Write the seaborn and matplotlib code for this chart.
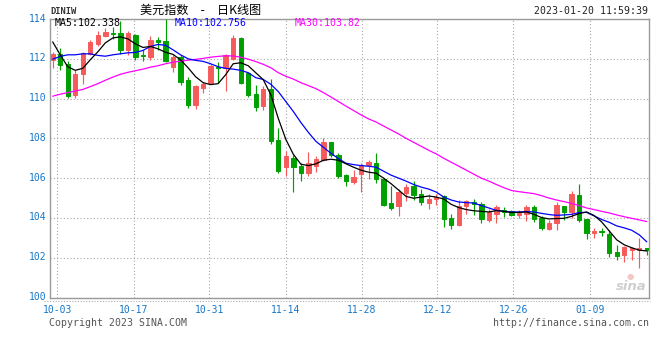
import numpy as np
import pandas as pd
import matplotlib
matplotlib.use("Agg")
import matplotlib.pyplot as plt
import seaborn as sns
from matplotlib.lines import Line2D
from matplotlib.transforms import ScaledTranslation

# ---------------- data ----------------
opens = [111.95, 112.25, 111.72, 110.17, 111.25, 112.25, 112.75, 113.17, 113.30, 113.28,
         112.45, 113.22, 112.18, 112.08, 112.92, 112.88, 111.58, 112.08, 110.92, 109.67,
         110.55, 110.76, 111.60, 111.54, 112.00, 113.04, 111.29, 110.23, 109.64, 110.48,
         107.92, 106.55, 107.00, 106.63, 106.26, 106.60, 106.93, 107.80, 107.18, 106.14,
         105.81, 106.22, 106.65, 106.76, 105.97, 104.75, 104.59, 105.25, 105.61, 105.20,
         104.75, 104.93, 105.08, 104.00, 103.63, 104.58, 104.80, 104.72, 103.92, 104.22,
         104.38, 104.35, 104.13, 104.22, 104.55, 104.02, 103.43, 103.72, 104.58, 104.30,
         105.17, 103.93, 103.22, 103.33, 103.17, 102.27, 102.13, 102.38, 102.38, 102.47]
highs = [112.33, 112.55, 111.88, 111.42, 112.33, 112.95, 113.42, 113.55, 113.62, 113.90,
         113.42, 113.25, 112.45, 113.17, 113.12, 113.98, 112.17, 112.18, 111.08, 110.67,
         110.84, 111.75, 111.83, 112.25, 113.20, 113.10, 111.34, 110.68, 110.63, 111.00,
         108.53, 107.37, 107.16, 106.76, 107.29, 107.10, 108.00, 107.84, 107.26, 106.19,
         106.43, 106.76, 106.90, 107.26, 106.02, 105.61, 105.45, 105.69, 105.86, 105.45,
         105.20, 105.22, 105.17, 104.22, 104.88, 104.88, 104.97, 104.80, 104.47, 104.63,
         104.55, 104.38, 104.38, 104.63, 104.63, 104.08, 103.88, 104.80, 104.60, 105.33,
         105.72, 103.97, 103.50, 103.50, 103.38, 102.63, 102.60, 102.55, 102.97, 102.50]
lows = [111.53, 111.42, 110.05, 110.05, 110.75, 112.20, 112.62, 113.08, 113.00, 112.25,
        112.17, 111.95, 111.88, 111.95, 112.45, 111.83, 111.33, 110.70, 109.55, 109.50,
        110.30, 110.72, 110.76, 110.40, 111.92, 110.73, 110.07, 109.36, 109.44, 107.70,
        106.26, 106.13, 105.31, 105.88, 106.10, 106.30, 106.85, 107.06, 105.99, 105.61,
        105.69, 105.31, 105.97, 105.78, 104.62, 104.38, 104.08, 104.87, 104.92, 104.66,
        104.46, 104.63, 103.52, 103.43, 103.60, 104.22, 104.13, 103.72, 103.80, 103.75,
        104.05, 104.10, 104.00, 103.83, 103.80, 103.38, 103.38, 103.38, 103.88, 104.00,
        103.80, 102.93, 102.97, 103.10, 102.05, 101.88, 101.77, 101.88, 101.50, 102.13]
closes = [112.25, 111.70, 110.12, 111.22, 112.30, 112.83, 113.20, 113.33, 113.25, 112.45,
          113.28, 112.08, 112.15, 112.92, 112.83, 111.88, 112.08, 110.85, 109.67, 110.62,
          110.71, 111.64, 111.55, 112.17, 113.04, 110.79, 110.18, 109.60, 110.46, 107.87,
          106.38, 107.12, 106.55, 106.26, 106.76, 106.98, 107.84, 107.14, 106.11, 105.86,
          106.07, 106.68, 106.83, 105.97, 104.66, 104.51, 105.31, 105.56, 105.15, 104.82,
          104.95, 105.07, 103.97, 103.63, 104.60, 104.85, 104.72, 103.93, 104.30, 104.55,
          104.30, 104.13, 104.25, 104.55, 103.93, 103.47, 103.77, 104.67, 104.30, 105.22,
          103.88, 103.22, 103.33, 103.27, 102.22, 102.10, 102.55, 102.47, 102.47, 102.38]

ma5 = [112.85, 112.20, 111.60, 111.42, 111.52, 111.95, 112.35, 112.80, 113.05, 113.10,
       113.00, 112.75, 112.57, 112.62, 112.50, 112.33, 112.22, 111.95, 111.55, 111.10,
       110.80, 110.70, 110.75, 111.20, 111.75, 111.80, 111.65, 111.30, 110.95, 110.20,
       109.00, 107.95, 107.20, 106.70, 106.63, 106.72, 106.90, 106.95, 106.90, 106.72,
       106.55, 106.40, 106.30, 106.25, 106.00, 105.72, 105.40, 105.08, 104.99, 105.05,
       105.10, 105.05, 104.95, 104.68, 104.52, 104.42, 104.36, 104.33, 104.30, 104.37,
       104.33, 104.27, 104.28, 104.30, 104.18, 104.02, 103.95, 103.97, 103.98, 104.08,
       104.22, 104.30, 104.12, 103.80, 103.35, 102.90, 102.65, 102.50, 102.38, 102.34]
ma10 = [111.98, 112.12, 112.20, 112.20, 112.25, 112.25, 112.17, 112.13, 112.20, 112.25,
        112.30, 112.32, 112.42, 112.62, 112.72, 112.68, 112.45, 112.20, 112.00, 111.92,
        111.87, 111.75, 111.60, 111.52, 111.48, 111.42, 111.30, 111.05, 110.96, 110.72,
        110.35, 109.85, 109.35, 108.80, 108.30, 107.85, 107.55, 107.25, 106.98, 106.75,
        106.68, 106.63, 106.60, 106.55, 106.35, 106.15, 106.00, 105.85, 105.68, 105.55,
        105.45, 105.30, 105.05, 104.90, 104.80, 104.77, 104.75, 104.62, 104.50, 104.38,
        104.33, 104.30, 104.30, 104.32, 104.30, 104.23, 104.17, 104.13, 104.15, 104.18,
        104.27, 104.28, 104.10, 103.92, 103.78, 103.60, 103.50, 103.38, 103.15, 102.80]
ma30 = [110.12, 110.22, 110.30, 110.38, 110.46, 110.60, 110.75, 110.92, 111.08, 111.22,
        111.32, 111.40, 111.48, 111.58, 111.65, 111.75, 111.83, 111.88, 111.93, 111.97,
        112.02, 112.08, 112.12, 112.15, 112.14, 112.08, 111.98, 111.86, 111.72, 111.55,
        111.30, 111.12, 110.98, 110.80, 110.65, 110.50, 110.30, 110.08, 109.85, 109.62,
        109.40, 109.18, 108.98, 108.82, 108.62, 108.42, 108.22, 108.00, 107.80, 107.60,
        107.40, 107.22, 107.00, 106.80, 106.60, 106.40, 106.20, 106.00, 105.85, 105.68,
        105.52, 105.38, 105.32, 105.27, 105.22, 105.12, 105.00, 104.90, 104.82, 104.73,
        104.62, 104.50, 104.42, 104.33, 104.25, 104.15, 104.06, 103.98, 103.90, 103.82]

date_labels = ["10-03", "10-17", "10-31", "11-14", "11-28", "12-12", "12-26", "01-09"]
date_tick_pos = [0.61, 10.77, 20.82, 30.98, 41.09, 51.14, 61.25, 71.41]
y_ticks = [100, 102, 104, 106, 108, 110, 112, 114]

title_text = "美元指数\u3000-\u3000日K线图"
symbol_text = "DINIW"
time_text = "2023-01-20 11:59:39"
ma_labels = ["MA5:102.338", "MA10:102.756", "MA30:103.82"]
copyright_text = "Copyright 2023 SINA.COM"
url_text = "http://finance.sina.com.cn"

# ---------------- style ----------------
sns.set_theme(style="white")
plt.rcParams["font.family"] = ["DejaVu Sans Mono", "Noto Sans CJK SC"]

RED = "#f65b5b"
GREEN = "#00a000"
TICK_BLUE = "#1677c9"
GRID = "#a8a8a8"

W, H = 660, 360
fig = plt.figure(figsize=(6.6, 3.6), dpi=100)
fig.patch.set_facecolor("white")
left_px, right_px, top_px, bot_px = 50.5, 649, 19, 297.5
ax = fig.add_axes([left_px / W, 1 - bot_px / H, (right_px - left_px) / W, (bot_px - top_px) / H])
ax.set_facecolor("white")

df = pd.DataFrame({"i": np.arange(len(closes)), "open": opens, "high": highs,
                   "low": lows, "close": closes, "ma5": ma5, "ma10": ma10, "ma30": ma30})
df["up"] = df["close"] >= df["open"]
cols = np.where(df["up"], RED, GREEN)

# wicks
ax.vlines(df["i"], df["low"], df["high"], colors=cols, linewidth=0.85, zorder=3)
# bodies
body_bottom = np.minimum(df["open"], df["close"])
body_h = np.abs(df["close"] - df["open"])
ax.bar(df["i"], body_h, bottom=body_bottom, width=0.58, color=cols,
       edgecolor=cols, linewidth=0.7, zorder=4)

# moving averages with seaborn
sns.lineplot(data=df, x="i", y="ma30", ax=ax, color="#ff00ff", linewidth=0.9, zorder=5)
sns.lineplot(data=df, x="i", y="ma10", ax=ax, color="#0000ff", linewidth=0.9, zorder=6)
sns.lineplot(data=df, x="i", y="ma5", ax=ax, color="#000000", linewidth=0.9, zorder=7)

# axes
x_left = (left_px - 52.7) / 7.52
x_right = (right_px - 52.7) / 7.52
ax.set_xlim(x_left, x_right)
ax.set_ylim(100, 114)
ax.set_xticks(date_tick_pos)
ax.set_xticklabels(date_labels)
ax.set_yticks(y_ticks)
ax.set_yticklabels([str(v) for v in y_ticks])
ax.set_xlabel("")
ax.set_ylabel("")
ax.tick_params(axis="both", length=0, labelcolor=TICK_BLUE)
ax.tick_params(axis="x", pad=5.5, labelsize=7.0)
ax.tick_params(axis="y", pad=3.0, labelsize=7.0)
up_shift = ScaledTranslation(0, 1.5 / 100, fig.dpi_scale_trans)
for lab in ax.get_yticklabels():
    lab.set_family("DejaVu Sans Mono")
    lab.set_transform(lab.get_transform() + up_shift)
for lab in ax.get_xticklabels():
    lab.set_family("DejaVu Sans Mono")
ax.grid(True, color=GRID, linestyle=(0, (1, 2)), linewidth=0.8, zorder=0)
ax.set_axisbelow(True)
for sp in ax.spines.values():
    sp.set_color("#9a9a9a")
    sp.set_linewidth(1.0)

# dotted line under the axis
fig.add_artist(Line2D([44 / W, 650 / W], [1 - 300.5 / H, 1 - 300.5 / H],
                      color="#b0b0b0", linestyle=(0, (1, 1.5)), linewidth=0.8))

# header texts
fig.text(50.5 / W, 1 - 11.7 / H, symbol_text, ha="left", va="center",
         fontsize=6.3, color="#333333", weight="bold", family="DejaVu Sans Mono")
fig.text(201 / W, 1 - 10.3 / H, title_text, ha="center", va="center",
         fontsize=8.7, color="#000000", family=["Noto Sans CJK SC", "DejaVu Sans"])
fig.text(648.5 / W, 1 - 11.5 / H, time_text, ha="right", va="center",
         fontsize=7.1, color="#222222", family="DejaVu Sans Mono")

# MA legend inside plot
ma_colors = ["#000000", "#0000ff", "#ff00ff"]
ma_x = [54.5, 174.5, 294.3]
for txt, c, xp in zip(ma_labels, ma_colors, ma_x):
    fig.text(xp / W, 1 - 23.3 / H, txt, ha="left", va="center",
             fontsize=7.1, color=c, family="DejaVu Sans Mono", zorder=10)

# footer
fig.text(49.3 / W, 1 - 323.5 / H, copyright_text, ha="left", va="center",
         fontsize=7.1, color="#555555", family="DejaVu Sans Mono")
fig.text(649.3 / W, 1 - 323.5 / H, url_text, ha="right", va="center",
         fontsize=7.1, color="#555555", family="DejaVu Sans Mono")

# watermark
fig.text(631 / W, 1 - 286.5 / H, "sina", ha="center", va="center", fontsize=9.5,
         color="#cfcfcf", style="italic", weight="bold", family="DejaVu Sans")
fig.text(630 / W, 1 - 277 / H, "●", ha="center", va="center", fontsize=6,
         color="#f5c6c6", family="DejaVu Sans")

fig.savefig("out.png", dpi=100)
